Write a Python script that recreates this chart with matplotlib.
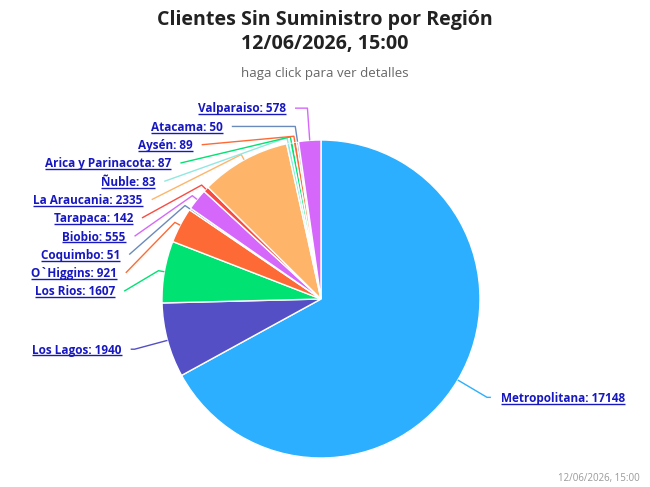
import numpy as np
import matplotlib
matplotlib.use("Agg")
import matplotlib.pyplot as plt

# ---------------- data ----------------
regions = ["Metropolitana", "Los Lagos", "Los Rios", "O`Higgins", "Coquimbo", "Biobio",
           "Tarapaca", "La Araucania", "Ñuble", "Arica y Parinacota", "Aysén", "Atacama",
           "Valparaiso"]
clients = [17148, 1940, 1607, 921, 51, 555, 142, 2335, 83, 87, 89, 50, 578]
colors = ["#2caffe", "#544fc5", "#00e272", "#fe6a35", "#6b8abc", "#d568fb",
          "#fa4b42", "#feb56a", "#91e8e1", "#00e272", "#fe6a35", "#6b8abc", "#d568fb"]

title = "Clientes Sin Suministro por Región\n12/06/2026, 15:00"
subtitle = "haga click para ver detalles"
credits = "12/06/2026, 15:00"

# ---------------- layout (pixels) ----------------
W, H = 650, 487
CX, CY, R = 321.0, 299.0, 159.0
LABEL_DIST = 34.0      # label circle radius = R + LABEL_DIST
PAD = 5.0
BREAK = 6.0
LINE_H = 18.3
LABEL_TOP = 99.0
LABEL_BOTTOM = 487.0
FONT = "Open Sans"
LINK = "#1818c0"

fig = plt.figure(figsize=(W / 100, H / 100), dpi=100)
ax = fig.add_axes([0, 0, 1, 1])

wedges, _ = ax.pie(clients, colors=colors, startangle=-90, counterclock=True,
                   center=(CX, CY), radius=R,
                   wedgeprops=dict(edgecolor="white", linewidth=1.0))
ax.set_xlim(0, W)
ax.set_ylim(H, 0)
ax.set_aspect("equal")
ax.axis("off")

# ---- label layout (Highcharts-like) ----
vals = np.array(clients, dtype=float)
cum = np.concatenate([[0], np.cumsum(vals)]) / vals.sum() * 2 * np.pi
mid = (cum[:-1] + cum[1:]) / 2          # clockwise from top
dirx = np.sin(mid)
diry = -np.cos(mid)                      # screen y down
RL = R + LABEL_DIST
nat_y = CY + RL * diry
left = dirx < 0


def distribute(targets, lo, hi, h):
    order = list(np.argsort(targets))
    groups = [[i] for i in order]

    def place(g):
        t = np.mean([targets[i] for i in g])
        top = t - h * (len(g) - 1) / 2
        top = max(top, lo + h / 2)
        top = min(top, hi - h / 2 - h * (len(g) - 1))
        return top

    changed = True
    while changed:
        changed = False
        tops = [place(g) for g in groups]
        for k in range(len(groups) - 1):
            end_k = tops[k] + h * (len(groups[k]) - 1)
            if end_k + h > tops[k + 1] + 1e-9:
                groups[k] = groups[k] + groups[k + 1]
                del groups[k + 1]
                changed = True
                break
    pos = {}
    for g in groups:
        top = place(g)
        for j, i in enumerate(g):
            pos[i] = top + j * h
    return pos


label_y = np.zeros(len(vals))
for side in (True, False):
    idx = [i for i in range(len(vals)) if left[i] == side]
    p = distribute([nat_y[i] for i in idx], LABEL_TOP, LABEL_BOTTOM, LINE_H)
    for k, i in enumerate(idx):
        label_y[i] = p[k]

texts = []
for i, (name, v) in enumerate(zip(regions, clients)):
    y = label_y[i]
    dy = y - CY
    a = np.arcsin(np.clip(dy / (RL - 1), -1, 1))
    s = -1 if left[i] else 1
    ax_x = CX + s * np.cos(a) * (RL - 1) + s * PAD
    # connector
    ex, ey = CX + R * dirx[i], CY + R * diry[i]
    bx, by = CX + (R + BREAK) * dirx[i], CY + (R + BREAK) * diry[i]
    crook = CX + (y - CY) * dirx[i] / diry[i] if abs(diry[i]) > 1e-6 else bx
    xs, ys = [ax_x], [y]
    if left[i]:
        if ax_x <= crook <= bx:
            xs.append(crook); ys.append(y)
    else:
        if bx <= crook <= ax_x:
            xs.append(crook); ys.append(y)
    xs += [bx, ex]; ys += [by, ey]
    ax.plot(xs, ys, color=colors[i], lw=1.0, solid_capstyle="butt", zorder=1)
    tx = ax_x - 9 if left[i] else ax_x + 10
    t = ax.text(tx, y + 4.3, f"{name}: {v}", ha="right" if left[i] else "left",
                va="baseline", fontsize=8.45, fontweight="bold", family=FONT,
                color=LINK, zorder=3)
    texts.append((t, y))

fig.text(0.5, 1 - 32 / H, title, ha="center", va="center", fontsize=14.1,
         fontweight="bold", family=FONT, color="#222222", linespacing=1.22)
fig.text(0.5, 1 - 73 / H, subtitle, ha="center", va="center", fontsize=9.5,
         family=FONT, color="#666666")
fig.text(1 - 10 / W, 1 - 478 / H, credits, ha="right", va="center", fontsize=7.0,
         family=FONT, color="#999999")

# underline labels
fig.canvas.draw()
renderer = fig.canvas.get_renderer()
inv = ax.transData.inverted()
for t, y in texts:
    bb = t.get_window_extent(renderer)
    (x0, _), (x1, _) = inv.transform([(bb.x0, bb.y0), (bb.x1, bb.y1)])
    uy = y + 6.2
    ax.plot([x0, x1], [uy, uy], color=LINK, lw=1.0, solid_capstyle="butt", zorder=3)

fig.savefig("out.png", dpi=100)
